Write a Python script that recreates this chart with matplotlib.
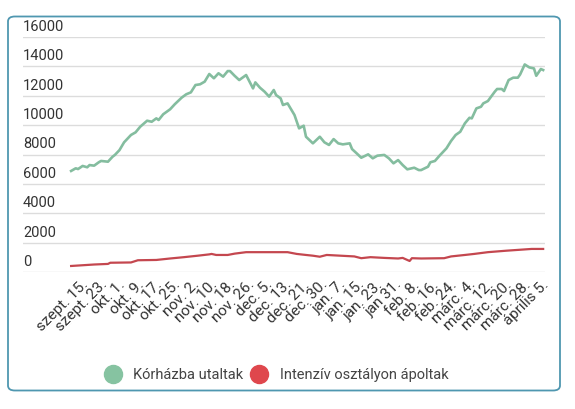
import numpy as np
import matplotlib
matplotlib.use('Agg')
import matplotlib.pyplot as plt
from matplotlib.patches import FancyBboxPatch
from matplotlib.lines import Line2D
from matplotlib.transforms import ScaledTranslation

# Data (index = position on the daily category axis)
tick_labels = ['szept. 15.', 'szept. 23.', 'okt. 1.', 'okt. 9.', 'okt. 17.', 'okt. 25.',
               'nov. 2.', 'nov. 10.', 'nov. 18.', 'nov. 26.', 'dec. 5.', 'dec. 13.',
               'dec. 21.', 'dec. 30.', 'jan. 7.', 'jan. 15.', 'jan. 23.', 'jan 31.',
               'feb. 8.', 'feb. 16.', 'feb. 24.', 'márc. 4.', 'márc. 12.', 'márc. 20.',
               'márc. 28.', 'április 5.']
tick_idx = list(range(0, 201, 8))

hosp_idx = [0, 2, 3, 5, 7, 8, 10, 12, 13, 16, 18, 19, 21, 23, 26, 28, 30, 33, 35, 37,
            38, 40, 43, 45, 48, 50, 52, 54, 56, 58, 60, 62, 64, 66, 68, 69, 71, 73, 76, 79,
            80, 82, 84, 86, 88, 89, 91, 92, 94, 97, 99, 101, 102, 105, 108, 110, 112, 114, 116, 118,
            121, 122, 124, 126, 129, 131, 133, 136, 138, 140, 142, 144, 146, 149, 151, 152, 155, 156, 158, 160,
            163, 165, 167, 169, 171, 173, 174, 176, 178, 179, 181, 184, 185, 187, 188, 190, 192, 194, 195, 197,
            199, 201, 202, 204, 205]
hosp = [6880, 7060, 7010, 7220, 7130, 7280, 7240, 7470, 7560, 7510, 7850, 7970, 8300, 8830, 9330, 9510, 9890, 10300, 10230, 10460,
        10350, 10740, 11080, 11420, 11870, 12100, 12230, 12730, 12780, 12960, 13480, 13190, 13530, 13300, 13680, 13680, 13360, 13070, 13410, 12500,
        12910, 12550, 12280, 11940, 12390, 12050, 11820, 11370, 11480, 10690, 9780, 9960, 9210, 8760, 9210, 8830, 8650, 9050, 8760, 8690,
        8760, 8370, 8080, 7780, 8010, 7740, 7920, 7970, 7740, 7400, 7620, 7280, 6990, 7100, 6940, 6940, 7170, 7470, 7560, 7920,
        8420, 8920, 9330, 9550, 10120, 10500, 10460, 11140, 11250, 11480, 11640, 12280, 12460, 12460, 12320, 13070, 13230, 13230, 13450, 14130,
        13930, 13860, 13360, 13820, 13750]

icu_idx = [0, 5, 10, 16, 17, 26, 29, 37, 43, 49, 55, 60, 61, 63, 68, 71, 76, 85, 94, 98,
           102, 105, 108, 111, 117, 123, 126, 130, 136, 142, 144, 147, 148, 152, 162, 165, 171, 175, 181, 189,
           200, 205]
icu = [410, 460, 510, 550, 630, 650, 800, 820, 920, 1010, 1110, 1200, 1230, 1160, 1160, 1250, 1350, 1350, 1350, 1230,
       1160, 1110, 1040, 1160, 1110, 1060, 940, 1010, 960, 920, 960, 750, 940, 920, 940, 1060, 1160, 1230, 1350, 1450,
       1570, 1570]

series_names = ['Kórházba utaltak', 'Intenzív osztályon ápoltak']
line_colors = ['#84bd9f', '#c4474f']
dot_colors = ['#86c3a1', '#df474d']


def main():
	plt.rcParams.update({'font.family': ['Roboto', 'DejaVu Sans']})
	W, H = 575, 409
	fig = plt.figure(figsize=(W / 100, H / 100), dpi=100)

	# card frame, kept behind the axes
	card = FancyBboxPatch((8 / W, 1 - 390.5 / H), 552 / W, 374 / H,
						  boxstyle='round,pad=0,rounding_size=0.012',
						  transform=fig.transFigure, facecolor='white',
						  edgecolor='#4f97b0', linewidth=1.3, zorder=-5)
	fig.patches.append(card)

	ax = fig.add_axes([23 / W, 1 - 272 / H, 522 / W, 235 / H])
	ax.patch.set_alpha(0)

	ax.plot(hosp_idx, hosp, color=line_colors[0], lw=1.9, solid_joinstyle='round')
	ax.plot(icu_idx, icu, color=line_colors[1], lw=1.6, solid_joinstyle='round')

	ax.set_xlim(-20.9, 205.8)
	ax.set_ylim(0, 16000)
	ax.set_yticks(np.arange(0, 16001, 2000))
	ax.set_yticklabels([str(v) for v in range(0, 16001, 2000)])
	ax.grid(axis='y', color='#dcdcdc', lw=1)
	ax.set_axisbelow(True)
	for s in ax.spines.values():
		s.set_visible(False)
	ax.tick_params(axis='y', length=0, pad=0, labelsize=10.5, labelcolor='#333333')
	for lab in ax.get_yticklabels():
		lab.set_horizontalalignment('left')
		lab.set_verticalalignment('bottom')
		lab.set_transform(lab.get_transform() + ScaledTranslation(0, 0.03, fig.dpi_scale_trans))

	ax.set_xticks(tick_idx)
	ax.set_xticklabels(tick_labels, rotation=45, ha='right', rotation_mode='anchor')
	ax.tick_params(axis='x', length=0, pad=4, labelsize=11, labelcolor='#333333')
	for lab in ax.get_xticklabels():
		lab.set_transform(lab.get_transform() + ScaledTranslation(0.1, 0, fig.dpi_scale_trans))

	handles = [Line2D([], [], ls='none', marker='o', markersize=13,
					  markerfacecolor=c, markeredgecolor=c) for c in dot_colors]
	fig.legend(handles, series_names, loc='center', bbox_to_anchor=(0.48, 1 - 375 / H),
			   ncols=2, frameon=False, fontsize=10.5, labelcolor='#444444',
			   handletextpad=0.8, columnspacing=0.5, handlelength=1.2)

	plt.savefig('out.png', dpi=100)


if __name__ == '__main__':
	main()
